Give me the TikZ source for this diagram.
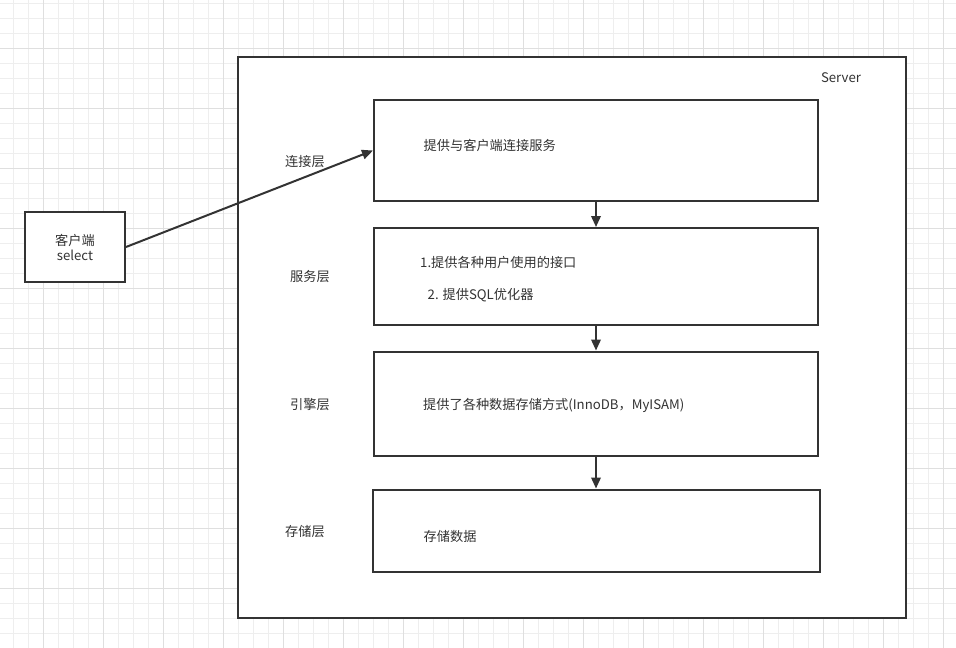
\documentclass[tikz,border=0pt]{standalone}
\usepackage{fontspec}
\setmainfont{Noto Sans CJK SC}
\usetikzlibrary{arrows.meta}

\definecolor{gridminor}{HTML}{EEEEEE}
\definecolor{gridmajor}{HTML}{DFDFDF}
\definecolor{ink}{HTML}{333333}

\begin{document}
\begin{tikzpicture}[x=1pt,y=-1pt,
  box/.style={draw=ink,line width=2pt,fill=white,inner sep=0pt},
  txt/.style={font=\fontsize{13.2}{15.5}\selectfont,text=ink,inner sep=0pt},
  flow/.style={draw=ink,line width=2pt,-{Triangle[width=9.5pt,length=11pt]}}]
\useasboundingbox (0,0) rectangle (956,648);
% Background grid
\foreach \x in {13.3,28.3,...,956} \draw[gridminor,line width=1pt] (\x,0) -- (\x,648);
\foreach \y in {3.3,18.3,...,648} \draw[gridminor,line width=1pt] (0,\y) -- (956,\y);
\foreach \x in {43.3,103.3,...,956} \draw[gridmajor,line width=1pt] (\x,0) -- (\x,648);
\foreach \y in {48.3,108.3,...,648} \draw[gridmajor,line width=1pt] (0,\y) -- (956,\y);
% Server frame
\node[box,minimum width=668pt,minimum height=561pt] (server) at (572,337.5) {};
\node[txt] (serverlabel) at (841,77.5) {Server};
% Layer boxes
\node[box,minimum width=444pt,minimum height=101pt] (conn) at (596,150.5) {};
\node[box,minimum width=444pt,minimum height=97pt] (svc) at (596,276.5) {};
\node[box,minimum width=444pt,minimum height=104pt] (engine) at (596,403.5) {};
\node[box,minimum width=447pt,minimum height=82pt] (store) at (596,530.5) {};
% Box texts
\node[txt,anchor=west] (conntext) at (423.5,145.5) {提供与客户端连接服务};
\node[txt,anchor=west] (svctexta) at (420,262) {1.提供各种用户使用的接口};
\node[txt,anchor=west] (svctextb) at (427.5,295) {2. 提供SQL优化器};
\node[txt,anchor=west] (enginetext) at (423,405) {提供了各种数据存储方式(InnoDB，MyISAM)};
\node[txt,anchor=west] (storetext) at (423.5,536.5) {存储数据};
% Layer names
\node[txt] (connname) at (305,161.5) {连接层};
\node[txt] (svcname) at (310,277) {服务层};
\node[txt] (enginename) at (310,405) {引擎层};
\node[txt] (storename) at (305,531.5) {存储层};
% Client
\node[box,minimum width=100pt,minimum height=70pt] (client) at (75,247) {};
\node[txt,align=center] (clienttext) at (75,247.5) {客户端\\select};
% Arrows
\draw[flow] (client.east) -- (conn.west);
\draw[flow] (conn.south) -- (svc.north);
\draw[flow] (svc.south) -- (engine.north);
\draw[flow] (engine.south) -- (store.north);
\end{tikzpicture}
\end{document}
